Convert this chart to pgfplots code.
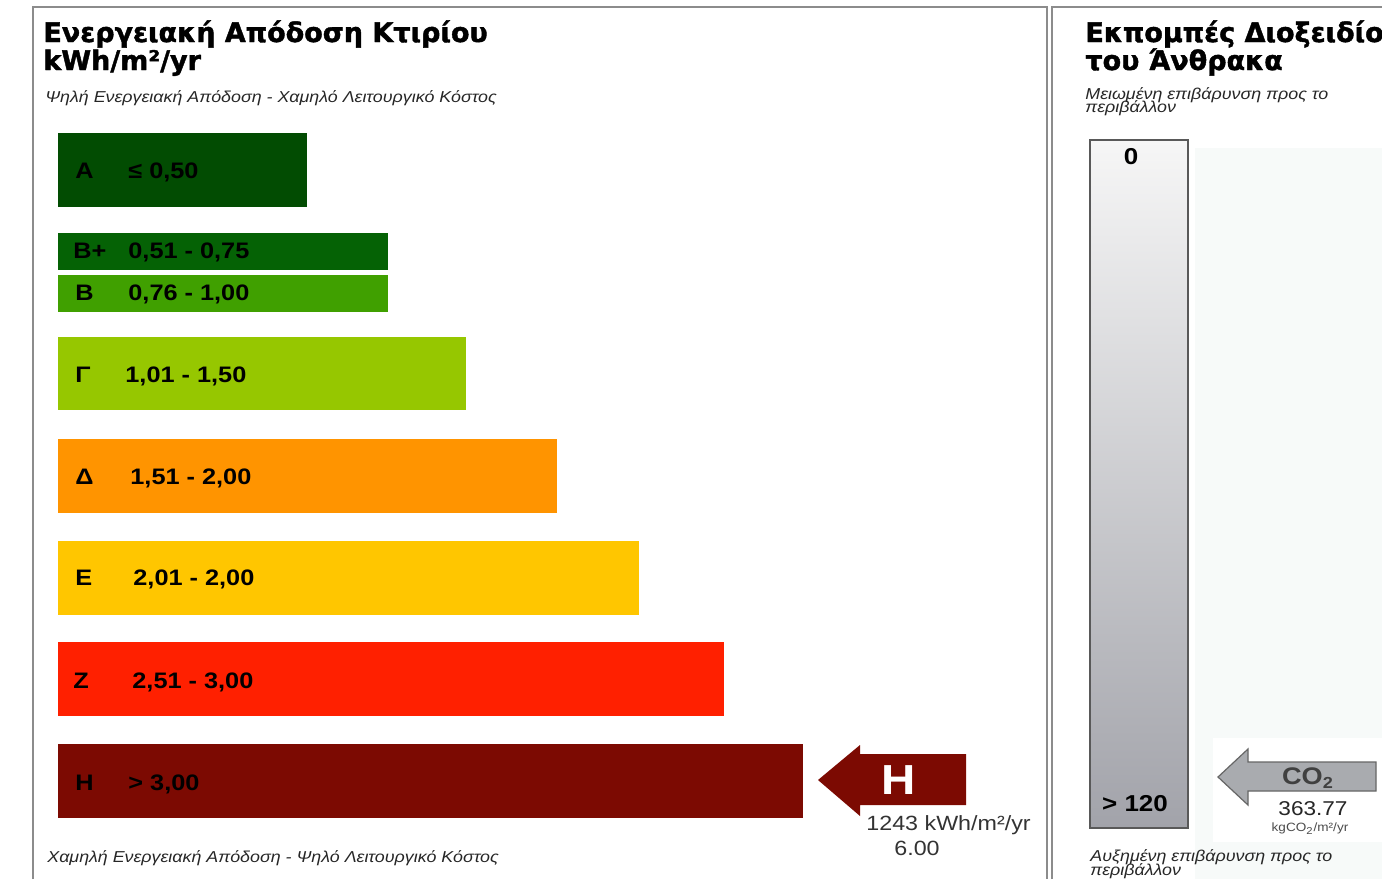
\documentclass[border=0pt]{standalone}
\usepackage{pgfplots}
\pgfplotsset{compat=1.18}
\usepackage{fontspec}
\setmainfont{Liberation Sans}[FakeStretch=1.13]
\newfontfamily\heavy{DejaVu Sans}[BoldFeatures={FakeBold=1.5}]

\definecolor{cA}{HTML}{024C02}
\definecolor{cBp}{HTML}{056205}
\definecolor{cB}{HTML}{40A000}
\definecolor{cG}{HTML}{96C700}
\definecolor{cD}{HTML}{FF9400}
\definecolor{cE}{HTML}{FFC600}
\definecolor{cZ}{HTML}{FF2000}
\definecolor{cH}{HTML}{7C0A02}
\definecolor{frame}{HTML}{8C8C8C}
\definecolor{coarrow}{HTML}{A9ABAF}
\definecolor{panelbg}{HTML}{F7FAF9}
\definecolor{scaletop}{HTML}{F6F6F6}
\definecolor{scalemid}{HTML}{C9C3C6}
\definecolor{scalebot}{HTML}{A2A3AA}

\begin{document}
\begin{tikzpicture}
% axis units are reference pixels; x = 0 is the left edge of the bars
\begin{axis}[
  scale only axis, width=691pt, height=439.5pt,
  xmin=-58, xmax=1324, ymin=0, ymax=879, y dir=reverse,
  hide axis,
]
% faint background of the CO2 panel
\fill[panelbg] (axis cs:1137,148) rectangle (axis cs:1324,879);
\fill[white] (axis cs:1155,738) rectangle (axis cs:1324,842);

% class bars: length in px, centre row in px
\addplot[xbar, bar shift=0pt, bar width=74, fill=cA, draw=none] coordinates {(249,170)};
\addplot[xbar, bar shift=0pt, bar width=37, fill=cBp, draw=none] coordinates {(330,251.5)};
\addplot[xbar, bar shift=0pt, bar width=37, fill=cB, draw=none] coordinates {(330,293.5)};
\addplot[xbar, bar shift=0pt, bar width=73, fill=cG, draw=none] coordinates {(408,373.5)};
\addplot[xbar, bar shift=0pt, bar width=74, fill=cD, draw=none] coordinates {(499,476)};
\addplot[xbar, bar shift=0pt, bar width=74, fill=cE, draw=none] coordinates {(581,578)};
\addplot[xbar, bar shift=0pt, bar width=74, fill=cZ, draw=none] coordinates {(666,679)};
\addplot[xbar, bar shift=0pt, bar width=74, fill=cH, draw=none] coordinates {(745,781)};

% rating arrow
\addplot[fill=cH, draw=none] coordinates {(760,780) (802,745) (802,754) (908,754) (908,805) (802,805) (802,816)} -- cycle;

% CO2 scale bar
\addplot[draw=black!65, line width=1pt, top color=scaletop, middle color=scalemid, bottom color=scalebot]
  coordinates {(1032,140) (1130,140) (1130,828) (1032,828)} -- cycle;

% CO2 arrow
\addplot[fill=coarrow, draw=black!60, line width=0.6pt] coordinates {(1160,777) (1190,749) (1190,762) (1318,762) (1318,791) (1190,791) (1190,805)} -- cycle;

% panel frames
\draw[frame, line width=1pt] (axis cs:-25,879) -- (axis cs:-25,7) -- (axis cs:989,7) -- (axis cs:989,879);
\draw[frame, line width=1pt] (axis cs:994,879) -- (axis cs:994,7) -- (axis cs:1324,7);

% titles
\tikzset{ttl/.style={anchor=base west, inner sep=0pt, font=\heavy\bfseries\fontsize{13.5}{16}\selectfont},
         sub/.style={anchor=base west, inner sep=0pt, black!85, font=\itshape\fontsize{7.9}{9}\selectfont}}
\node[ttl] at (axis cs:-15,42) {Ενεργειακή Απόδοση Κτιρίου};
\node[ttl] at (axis cs:-15,70) {kWh/m²/yr};
\node[sub] at (axis cs:-13,102) {Ψηλή Ενεργειακή Απόδοση - Χαμηλό Λειτουργικό Κόστος};
\node[sub] at (axis cs:-11,862) {Χαμηλή Ενεργειακή Απόδοση - Ψηλό Λειτουργικό Κόστος};

\node[ttl] at (axis cs:1027,42) {Εκπομπές Διοξειδίου};
\node[ttl] at (axis cs:1027,70) {του Άνθρακα};
\node[sub] at (axis cs:1027,99) {Μειωμένη επιβάρυνση προς το};
\node[sub] at (axis cs:1027,112) {περιβάλλον};
\node[sub] at (axis cs:1032,861) {Αυξημένη επιβάρυνση προς το};
\node[sub] at (axis cs:1032,875) {περιβάλλον};

% bar labels (baseline = bar centre + half the cap height)
\tikzset{lab/.style={anchor=base west, inner sep=0pt, font=\bfseries\fontsize{11.2}{13}\selectfont}}
\node[lab] at (axis cs:17,178) {Α};   \node[lab] at (axis cs:70,178) {≤ 0,50};
\node[lab] at (axis cs:15,258) {Β+};  \node[lab] at (axis cs:70,258) {0,51 - 0,75};
\node[lab] at (axis cs:17,300) {Β};   \node[lab] at (axis cs:70,300) {0,76 - 1,00};
\node[lab] at (axis cs:17,382) {Γ};   \node[lab] at (axis cs:67,382) {1,01 - 1,50};
\node[lab] at (axis cs:17,484) {Δ};   \node[lab] at (axis cs:72,484) {1,51 - 2,00};
\node[lab] at (axis cs:17,585) {Ε};   \node[lab] at (axis cs:75,585) {2,01 - 2,00};
\node[lab] at (axis cs:15,688) {Ζ};   \node[lab] at (axis cs:74,688) {2,51 - 3,00};
\node[lab] at (axis cs:17,790) {Η};   \node[lab] at (axis cs:70,790) {> 3,00};

% rating text
\node[white, font=\bfseries\fontsize{21}{24}\selectfont] at (axis cs:841,780) {Η};
\node[anchor=base west, inner sep=0pt, black!80, font=\fontsize{10.3}{12}\selectfont] at (axis cs:808,830) {1243 kWh/m²/yr};
\node[black!80, font=\fontsize{10.3}{12}\selectfont] at (axis cs:859,848) {6.00};

% CO2 scale text
\node[font=\bfseries\fontsize{11.5}{13}\selectfont] at (axis cs:1073,157) {0};
\node[font=\bfseries\fontsize{11.5}{13}\selectfont] at (axis cs:1077,804) {> 120};
\node[black!75, font=\bfseries\fontsize{12}{14}\selectfont] at (axis cs:1250,778) {CO\textsubscript{2}};
\node[black!85, font=\fontsize{10}{12}\selectfont] at (axis cs:1255,809) {363.77};
\node[black!70, font=\fontsize{6}{7}\selectfont] at (axis cs:1252,829) {kgCO\textsubscript{2}/m²/yr};
\end{axis}
% the reference is cropped at the axis box
\pgfresetboundingbox
\path[use as bounding box] (current axis.south west) rectangle (current axis.north east);
\end{tikzpicture}
\end{document}
